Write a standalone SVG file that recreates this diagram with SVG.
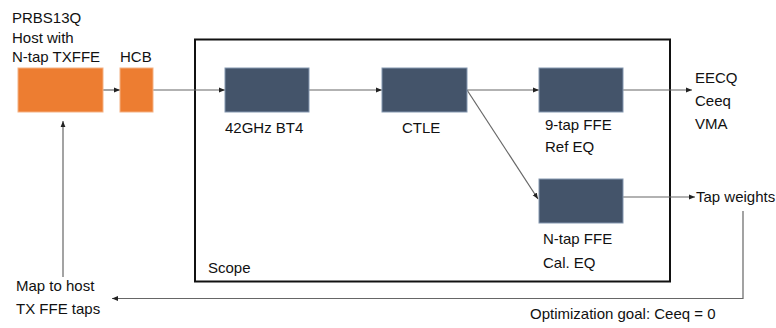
<svg xmlns="http://www.w3.org/2000/svg" width="776" height="328" viewBox="0 0 776 328">
<style>
text{font-family:"Liberation Sans",Arial,sans-serif;font-size:15px;fill:#111}
.or{fill:#ED7D31;stroke:#F4B183;stroke-width:1}
.dk{fill:#44546A;stroke:#8497B0;stroke-width:1}
.ln{fill:none;stroke:#666;stroke-width:1.2}
</style>
<defs>
<marker id="ah" viewBox="0 0 10 10" refX="10" refY="5" markerWidth="6" markerHeight="6" orient="auto-start-reverse" markerUnits="userSpaceOnUse">
<path d="M0,1 L10,5 L0,9 z" fill="#222"/>
</marker>
</defs>
<g id="scope">
<rect x="195" y="39.5" width="475" height="242" fill="none" stroke="#111" stroke-width="2"/>
<text x="208" y="273">Scope</text>
</g>
<g id="connectors">
<line class="ln" x1="103" y1="90" x2="120" y2="90" marker-end="url(#ah)"/>
<line class="ln" x1="153" y1="90" x2="225" y2="90" marker-end="url(#ah)"/>
<line class="ln" x1="309" y1="90" x2="382" y2="90" marker-end="url(#ah)"/>
<line class="ln" x1="467" y1="90" x2="539" y2="90" marker-end="url(#ah)"/>
<line class="ln" x1="467" y1="90" x2="538" y2="199" marker-end="url(#ah)"/>
<line class="ln" x1="623" y1="90" x2="692" y2="90" marker-end="url(#ah)"/>
<line class="ln" x1="623" y1="197" x2="695" y2="197" marker-end="url(#ah)"/>
<polyline class="ln" points="743,211 743,298.5 112,298.5" marker-end="url(#ah)"/>
<line class="ln" x1="63" y1="277" x2="63" y2="121" marker-end="url(#ah)"/>
</g>
<g id="host">
<rect class="or" x="18" y="68" width="85" height="44"/>
<text x="12" y="23">PRBS13Q</text>
<text x="12" y="43">Host with</text>
<text x="12" y="62">N-tap TXFFE</text>
</g>
<g id="hcb">
<rect class="or" x="120" y="68" width="33" height="44"/>
<text x="120" y="62">HCB</text>
</g>
<g id="bt4">
<rect class="dk" x="225" y="68" width="84" height="44"/>
<text x="225" y="133">42GHz BT4</text>
</g>
<g id="ctle">
<rect class="dk" x="382" y="68" width="85" height="44"/>
<text x="402" y="133">CTLE</text>
</g>
<g id="refeq">
<rect class="dk" x="539" y="68" width="84" height="44"/>
<text x="545" y="130">9-tap FFE</text>
<text x="545" y="152">Ref EQ</text>
</g>
<g id="caleq">
<rect class="dk" x="539" y="179" width="84" height="44"/>
<text x="543" y="244">N-tap FFE</text>
<text x="543" y="268">Cal. EQ</text>
</g>
<g id="metrics">
<text x="695" y="83">EECQ</text>
<text x="695" y="106">Ceeq</text>
<text x="695" y="129">VMA</text>
</g>
<g id="tapweights">
<text x="696" y="202">Tap weights</text>
</g>
<g id="map">
<text x="16" y="291">Map to host</text>
<text x="16" y="314">TX FFE taps</text>
</g>
<g id="goal">
<text x="530" y="319">Optimization goal: Ceeq = 0</text>
</g>
</svg>
